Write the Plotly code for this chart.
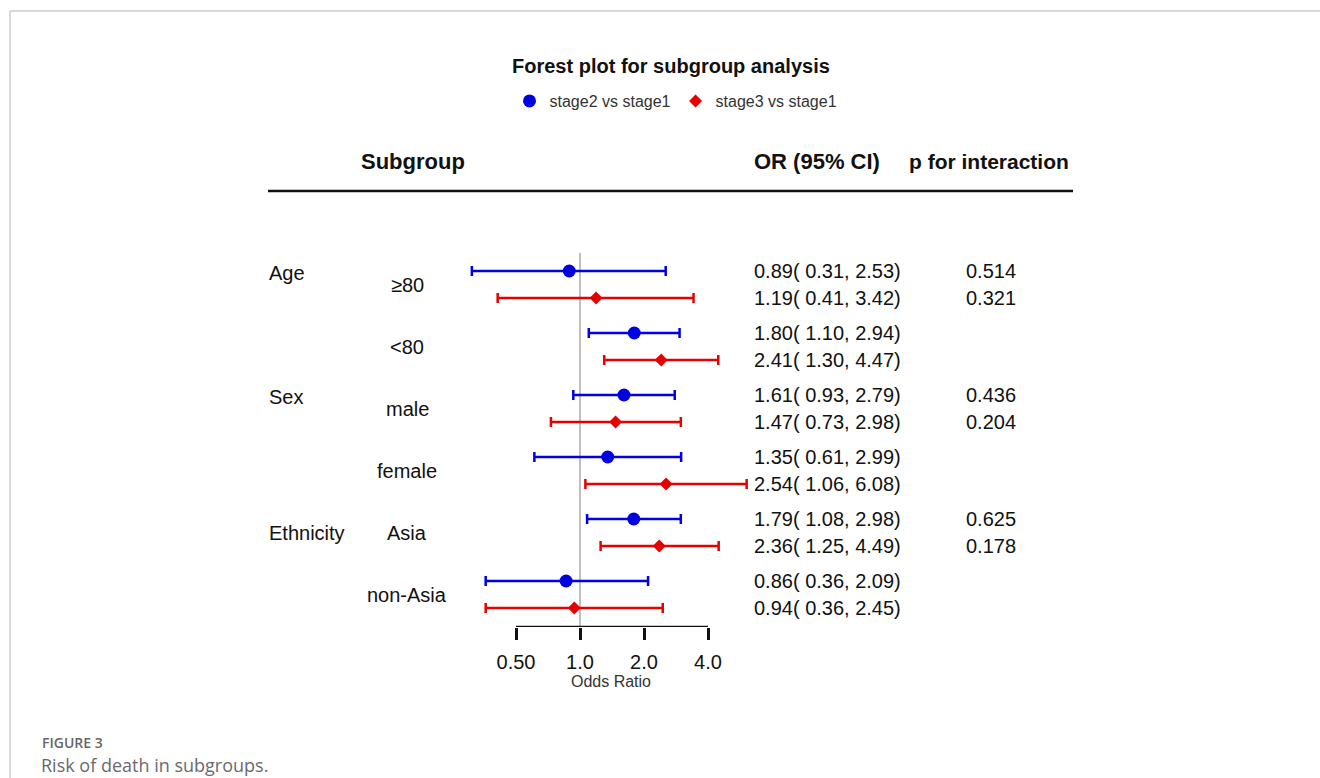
import math
import plotly.graph_objects as go

# ---------------- data ----------------
subgroups = ["≥80", "<80", "male", "female", "Asia", "non-Asia"]
groups = ["Age", "Sex", "Ethnicity"]
group_rows = [0, 2, 4]

s2_or = [0.89, 1.80, 1.61, 1.35, 1.79, 0.86]
s2_lo = [0.31, 1.10, 0.93, 0.61, 1.08, 0.36]
s2_hi = [2.53, 2.94, 2.79, 2.99, 2.98, 2.09]

s3_or = [1.19, 2.41, 1.47, 2.54, 2.36, 0.94]
s3_lo = [0.41, 1.30, 0.73, 1.06, 1.25, 0.36]
s3_hi = [3.42, 4.47, 2.98, 6.08, 4.49, 2.45]

p2 = ["0.514", "", "0.436", "", "0.625", ""]
p3 = ["0.321", "", "0.204", "", "0.178", ""]

tick_vals = [0.5, 1.0, 2.0, 4.0]
tick_text = ["0.50", "1.0", "2.0", "4.0"]

series_names = ["stage2 vs stage1", "stage3 vs stage1"]

# ---------------- layout helpers ----------------
W, H = 1320, 778
BLUE = "#0000e0"
RED = "#e60000"
FONT = "Liberation Sans, Arial, sans-serif"

def px(x):
    return x / W

def py(y):
    return (H - y) / H

n = len(subgroups)
blue_y = [k for k in range(n)]
red_y = [k + 0.435 for k in range(n)]
mid_y = [k + 0.218 for k in range(n)]
group_off = [0.03, 0.03, 0.23]

fig = go.Figure()

fig.add_trace(go.Scatter(
    x=s2_or, y=blue_y, mode="markers", name=series_names[0],
    marker=dict(symbol="circle", size=13, color=BLUE),
    error_x=dict(type="data", symmetric=False,
                 array=[h - o for h, o in zip(s2_hi, s2_or)],
                 arrayminus=[o - l for o, l in zip(s2_or, s2_lo)],
                 color=BLUE, thickness=2.5, width=5),
))
fig.add_trace(go.Scatter(
    x=s3_or, y=red_y, mode="markers", name=series_names[1],
    marker=dict(symbol="diamond", size=10, color=RED),
    error_x=dict(type="data", symmetric=False,
                 array=[h - o for h, o in zip(s3_hi, s3_or)],
                 arrayminus=[o - l for o, l in zip(s3_or, s3_lo)],
                 color=RED, thickness=2.5, width=5),
))

# plot area: x pixels 461..761, 1.0 at 580 ; y pixels 240..627
px_per_log10 = 64 / math.log10(2)
x_left = -(580 - 461) / px_per_log10
x_right = (761 - 580) / px_per_log10
y_top_px, y_bot_px, row0_px, row_h = 240, 627, 271, 62
y_top = (y_top_px - row0_px) / row_h
y_bot = (y_bot_px - row0_px) / row_h

annotations = []
txt_font = dict(family=FONT, size=20, color="#111111")

# group labels
for g, r, off in zip(groups, group_rows, group_off):
    annotations.append(dict(x=px(267), xref="paper", y=r + off, yref="y",
                            text=g, showarrow=False, xanchor="left",
                            yanchor="middle", font=txt_font))
# subgroup labels
for s, yy in zip(subgroups, mid_y):
    annotations.append(dict(x=px(407), xref="paper", y=yy, yref="y",
                            text=s, showarrow=False, xanchor="center",
                            yanchor="middle", font=txt_font))
# OR columns
for o, l, h, yy in zip(s2_or, s2_lo, s2_hi, blue_y):
    annotations.append(dict(x=px(752), xref="paper", y=yy, yref="y",
                            text=f"{o:.2f}( {l:.2f}, {h:.2f})", showarrow=False,
                            xanchor="left", yanchor="middle", font=txt_font))
for o, l, h, yy in zip(s3_or, s3_lo, s3_hi, red_y):
    annotations.append(dict(x=px(752), xref="paper", y=yy, yref="y",
                            text=f"{o:.2f}( {l:.2f}, {h:.2f})", showarrow=False,
                            xanchor="left", yanchor="middle", font=txt_font))
# p for interaction
for p, yy in zip(p2, blue_y):
    if p:
        annotations.append(dict(x=px(964), xref="paper", y=yy, yref="y",
                                text=p, showarrow=False, xanchor="left",
                                yanchor="middle", font=txt_font))
for p, yy in zip(p3, red_y):
    if p:
        annotations.append(dict(x=px(964), xref="paper", y=yy, yref="y",
                                text=p, showarrow=False, xanchor="left",
                                yanchor="middle", font=txt_font))

hdr_font = dict(family=FONT, size=22, color="#111111", weight="bold")
hdr_font2 = dict(family=FONT, size=21, color="#111111", weight="bold")
annotations += [
    dict(x=px(413), xref="paper", y=py(161), yref="paper", text="Subgroup",
         showarrow=False, xanchor="center", yanchor="middle", font=hdr_font),
    dict(x=px(752), xref="paper", y=py(161), yref="paper", text="OR (95% CI)",
         showarrow=False, xanchor="left", yanchor="middle", font=hdr_font),
    dict(x=px(907), xref="paper", y=py(161), yref="paper", text="p for interaction",
         showarrow=False, xanchor="left", yanchor="middle", font=hdr_font2),
    dict(x=px(671), xref="paper", y=py(66), yref="paper",
         text="Forest plot for subgroup analysis", showarrow=False,
         xanchor="center", yanchor="middle",
         font=dict(family=FONT, size=20, color="#111111", weight="bold")),
    dict(x=px(40), xref="paper", y=py(742), yref="paper", text="FIGURE 3",
         showarrow=False, xanchor="left", yanchor="middle",
         font=dict(family="Open Sans, sans-serif", size=14, color="#666666", weight=600)),
    dict(x=px(39), xref="paper", y=py(765), yref="paper",
         text="Risk of death in subgroups.", showarrow=False,
         xanchor="left", yanchor="middle",
         font=dict(family="Open Sans, sans-serif", size=18, color="#6a6a6a")),
]

shapes = [
    # page frame
    dict(type="line", xref="paper", yref="paper", x0=px(10), x1=1, y0=py(11), y1=py(11),
         line=dict(color="#cccccc", width=1.5)),
    dict(type="line", xref="paper", yref="paper", x0=px(10), x1=px(10), y0=py(11), y1=0,
         line=dict(color="#cccccc", width=1.5)),
    # header rule
    dict(type="line", xref="paper", yref="paper", x0=px(268), x1=px(1073),
         y0=py(191), y1=py(191), line=dict(color="#111111", width=2.5)),
    # reference line at OR = 1
    dict(type="line", xref="x", yref="y", x0=1, x1=1, y0=-0.29, y1=y_bot,
         line=dict(color="#aaaaaa", width=1.5), layer="below"),
    # axis line spanning the tick range
    dict(type="line", xref="x", yref="y", x0=tick_vals[0], x1=tick_vals[-1],
         y0=y_bot, y1=y_bot, line=dict(color="#111111", width=2.5)),
]

fig.update_layout(
    width=W, height=H,
    margin=dict(l=0, r=0, t=0, b=0),
    paper_bgcolor="white", plot_bgcolor="white",
    showlegend=True,
    legend=dict(orientation="h", x=px(676), xanchor="center", y=py(101),
                yanchor="middle", font=dict(family=FONT, size=16, color="#333333"),
                itemwidth=30, bgcolor="rgba(0,0,0,0)", tracegroupgap=0),
    xaxis=dict(type="log", domain=[px(461), px(761)], range=[x_left, x_right],
               tickvals=tick_vals, ticktext=tick_text, showgrid=False,
               zeroline=False, showline=False, ticks="outside", ticklen=12,
               tickwidth=2.5, tickcolor="#111111", ticklabelstandoff=5,
               tickfont=dict(family=FONT, size=20, color="#111111"),
               title=dict(text="Odds Ratio", standoff=2,
                          font=dict(family=FONT, size=16, color="#333333"))),
    yaxis=dict(domain=[py(y_bot_px), py(y_top_px)], range=[y_bot, y_top],
               visible=False, showgrid=False, zeroline=False),
    annotations=annotations,
    shapes=shapes,
)

fig.write_html("out.html")
